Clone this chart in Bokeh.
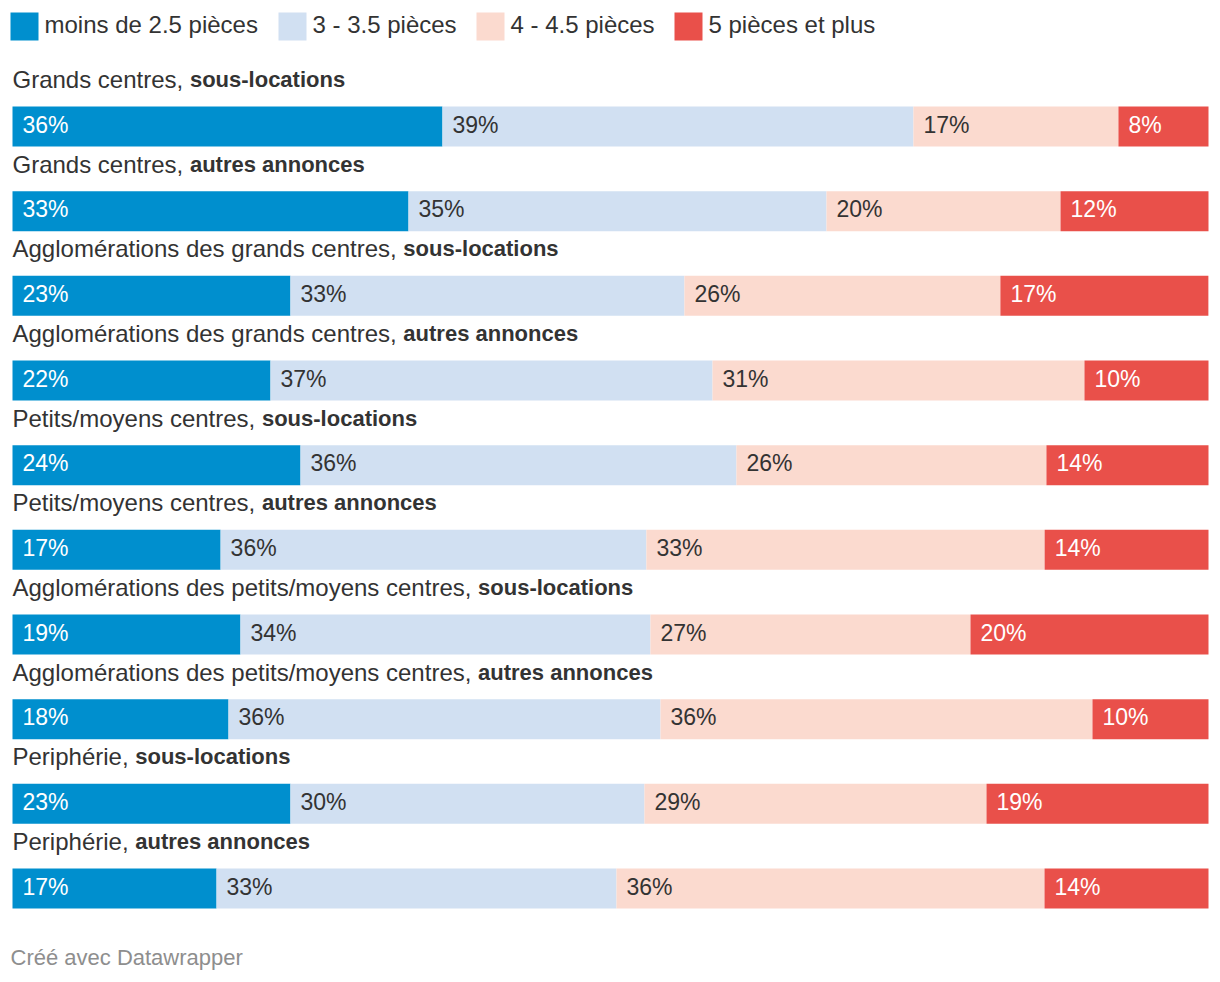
from bokeh.plotting import figure
from bokeh.models import Range1d, ColumnDataSource
from bokeh.core.properties import value
from bokeh.embed import file_html
from bokeh.resources import INLINE

# ---------------- data ----------------
row_places = [
    "Grands centres",
    "Grands centres",
    "Agglomérations des grands centres",
    "Agglomérations des grands centres",
    "Petits/moyens centres",
    "Petits/moyens centres",
    "Agglomérations des petits/moyens centres",
    "Agglomérations des petits/moyens centres",
    "Periphérie",
    "Periphérie",
]
row_types = ["sous-locations", "autres annonces"] * 5

series_names = ["moins de 2.5 pièces", "3 - 3.5 pièces", "4 - 4.5 pièces", "5 pièces et plus"]
s_small = [35.95, 33.11, 23.24, 21.57, 24.08, 17.4, 19.06, 18.06, 23.24, 17.06]
s_mid = [39.38, 34.95, 32.94, 36.96, 36.45, 35.6, 34.28, 36.12, 29.60, 33.44]
s_large = [17.14, 19.57, 26.42, 31.10, 25.92, 33.3, 26.76, 36.12, 28.60, 35.79]
s_xl = [7.53, 12.37, 17.39, 10.37, 13.55, 13.7, 19.90, 9.70, 18.56, 13.71]
series = [s_small, s_mid, s_large, s_xl]

colors = ["#008fce", "#d1e0f2", "#fbdacf", "#e9504a"]
label_colors = ["#ffffff", "#333333", "#333333", "#ffffff"]

# ---------------- layout ----------------
FONT = "Liberation Sans"
FS = 23
FS_NORMAL = 24
FS_BOLD = 22
W, H = 1216, 976
PAD = 0
BAR_L, BAR_R = 12, 1208
SCALE = (BAR_R - BAR_L) / 100.0
ROW0_TOP = 106
ROW_STEP = 84.67
BAR_H = 40


def px2x(px):
    return (px - BAR_L) / SCALE


def py2y(py):
    return py - PAD


# Arial / Liberation Sans advance widths (per 1000 em)
ADV = {
    "A": 667, "G": 778, "P": 667, "a": 556, "c": 500, "d": 556, "e": 556,
    "é": 556, "g": 556, "h": 556, "i": 222, "l": 222, "m": 833, "n": 556,
    "o": 556, "p": 556, "r": 333, "s": 500, "t": 278, "v": 500, "y": 500,
    "/": 278, ",": 278, " ": 278,
}


def text_width(s, size):
    return sum(ADV.get(ch, 556) for ch in s) * size / 1000.0


p = figure(
    width=W, height=H, output_backend="svg", toolbar_location=None,
    x_range=Range1d(px2x(PAD), px2x(PAD + W)),
    y_range=Range1d(H, 0),
    x_axis_location=None, y_axis_location=None,
    min_border=0,
)
p.grid.visible = False
p.outline_line_color = None
p.background_fill_color = "#ffffff"
p.border_fill_color = "#ffffff"

n = len(row_places)
ys = [py2y(ROW0_TOP + i * ROW_STEP + BAR_H / 2) for i in range(n)]

# stacked bars
left = [0.0] * n
for k, vals in enumerate(series):
    right = [l + v for l, v in zip(left, vals)]
    src = ColumnDataSource(dict(
        y=ys, left=left, right=right,
        lab=[f"{round(v)}%" for v in vals],
    ))
    p.hbar(y="y", left="left", right="right", height=BAR_H, source=src,
           fill_color=colors[k], line_color=None)
    p.text(x="left", y="y", text="lab", source=src, x_offset=10, y_offset=-2,
           text_font=value(FONT), text_font_size=f"{FS}px",
           text_color=label_colors[k], text_baseline="middle", text_align="left")
    left = right

# row labels
label_y = [py2y(ROW0_TOP + i * ROW_STEP - 27) for i in range(n)]
normal_txt = [pl + ", " for pl in row_places]
p.text(x=[px2x(12)] * n, y=label_y, text=normal_txt,
       text_font=value(FONT), text_font_size=f"{FS_NORMAL}px", text_color="#333333",
       text_baseline="middle", text_align="left")
bold_x = [px2x(12 + text_width(t, FS_NORMAL)) for t in normal_txt]
p.text(x=bold_x, y=label_y, text=row_types,
       text_font=value(FONT), text_font_size=f"{FS_BOLD}px", text_color="#333333",
       text_font_style="bold", text_baseline="middle", text_align="left")

# legend
leg_sq_x = [10, 278, 476, 674]
leg_y = py2y(26)
p.rect(x=[px2x(x + 14) for x in leg_sq_x], y=[leg_y] * 4, width=28, height=28,
       width_units="screen", height_units="screen",
       fill_color=colors, line_color=None)
p.text(x=[px2x(x + 34) for x in leg_sq_x], y=[leg_y] * 4, text=series_names,
       y_offset=-2,
       text_font=value(FONT), text_font_size="24px", text_color="#333333",
       text_baseline="middle", text_align="left")

# footer
p.text(x=[px2x(10)], y=[py2y(957)], text=["Créé avec Datawrapper"],
       text_font=value(FONT), text_font_size="22px", text_color="#8e8e8e",
       text_baseline="middle", text_align="left")

open("out.html", "w").write(file_html(p, INLINE))
